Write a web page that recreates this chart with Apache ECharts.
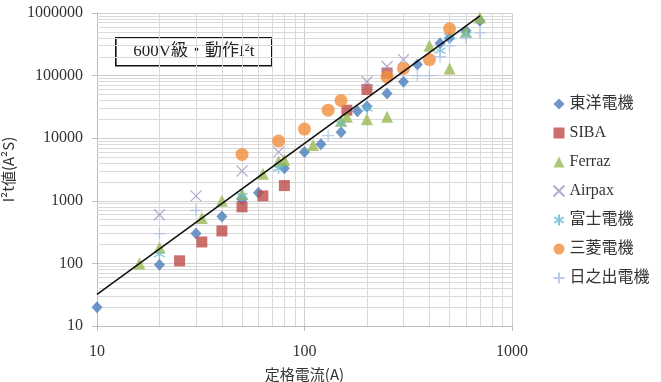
<!DOCTYPE html>
<html>
<head>
<meta charset="utf-8">
<script src="https://cdn.jsdelivr.net/npm/echarts@6/dist/echarts.min.js"></script>
<style>
  html, body { margin: 0; padding: 0; background: #fff; }
  #chart { width: 661px; height: 382px; }
</style>
</head>
<body>
<div id="chart"></div>
<script>
// Rated current (A) vs. operating I²t (A²s) for 600 V class fuses, by maker.
const seriesNames = ['東洋電機', 'SIBA', 'Ferraz', 'Airpax', '富士電機', '三菱電機', '日之出電機'];

const toyo = [[10, 20], [20, 95], [30, 300], [40, 560], [50, 1050], [60, 1350], [80, 3300], [100, 6000],
  [120, 8000], [150, 12500], [180, 27000], [200, 32000], [250, 52000], [300, 80000], [350, 150000],
  [450, 330000], [500, 400000], [600, 520000], [700, 750000]];
const siba = [[25, 110], [32, 220], [40, 330], [50, 800], [63, 1200], [80, 1750], [160, 28000],
  [200, 60000], [250, 110000]];
const ferraz = [[16, 100], [20, 180], [32, 530], [40, 1000], [50, 1300], [63, 2700], [75, 4300],
  [80, 4500], [110, 7800], [150, 19000], [160, 22000], [200, 20000], [250, 22000], [400, 300000],
  [500, 130000], [600, 500000], [700, 850000]];
const airpax = [[20, 600], [30, 1200], [50, 3000], [75, 6000], [200, 80000], [250, 140000], [300, 180000]];
const fuji = [[20, 140], [50, 1200], [75, 3300], [150, 17000], [200, 30000], [450, 250000],
  [500, 420000], [600, 450000]];
const mitsubishi = [[50, 5500], [75, 9000], [100, 14000], [130, 28000], [150, 40000], [250, 95000],
  [300, 130000], [400, 180000], [500, 560000]];
const hinode = [[20, 300], [30, 700], [130, 11000], [350, 100000], [400, 100000], [450, 200000],
  [500, 300000], [600, 400000], [700, 480000]];

// Power-law trend line end points
const trend = [[10, 32], [700, 900000]];

// Axis ranges
const xRange = [10, 1000];
const yRange = [10, 1000000];

const serif = "'Liberation Serif', 'DejaVu Serif', 'Noto Sans CJK JP', serif";
const gothic = "'Noto Sans CJK JP', 'Noto Sans', sans-serif";
const gridColor = '#cfcfcf';

// Minor (2..9 × decade) grid values on the log axes
function minorValues(lo, hi) {
  const out = [];
  for (let d = lo; d < hi; d *= 10) {
    for (let k = 2; k <= 9; k++) out.push(d * k);
  }
  return out;
}
const minorLines = minorValues(xRange[0], xRange[1]).map(v => ({ xAxis: v }))
  .concat(minorValues(yRange[0], yRange[1]).map(v => ({ yAxis: v })));

const markerX = 'path://M0,0L10,10M10,0L0,10';
const markerPlus = 'path://M5,0L5,10M0,5L10,5';
const markerStar = 'path://M5,0L5,10M0.7,2.5L9.3,7.5M0.7,7.5L9.3,2.5';

function pts(arr) { return arr.map(p => [p[0], p[1]]); }

const chart = echarts.init(document.getElementById('chart'), null, { renderer: 'canvas' });

chart.setOption({
  animation: false,
  backgroundColor: '#ffffff',
  grid: { left: 97, right: 149, top: 13, bottom: 56, containLabel: false, outerBoundsMode: 'none' },
  legend: {
    orient: 'vertical',
    left: 546,
    top: 91,
    itemWidth: 11,
    itemHeight: 11,
    itemGap: 13,
    textStyle: { fontFamily: serif, fontSize: 16, color: '#333' },
    data: seriesNames
  },
  xAxis: {
    type: 'log',
    logBase: 10,
    min: xRange[0],
    max: xRange[1],
    name: '定格電流(A)',
    nameLocation: 'middle',
    nameGap: 41,
    nameTextStyle: { fontFamily: gothic, fontSize: 15, color: '#333' },
    axisLine: { show: true, lineStyle: { color: '#bdbdbd' } },
    axisTick: { show: true, length: 5, lineStyle: { color: '#bdbdbd' } },
    axisLabel: {
      margin: 18, fontFamily: serif, fontSize: 16, color: '#333',
      formatter: v => String(Math.round(v))
    },
    splitLine: { show: true, lineStyle: { color: gridColor } }
  },
  yAxis: {
    type: 'log',
    logBase: 10,
    min: yRange[0],
    max: yRange[1],
    name: 'I²t値(A²S)',
    nameLocation: 'middle',
    nameGap: 72,
    nameRotate: 90,
    nameTextStyle: { fontFamily: gothic, fontSize: 15, color: '#333' },
    axisLine: { show: true, lineStyle: { color: '#bdbdbd' } },
    axisTick: { show: true, length: 5, lineStyle: { color: '#bdbdbd' } },
    axisLabel: {
      margin: 14, fontFamily: serif, fontSize: 16, color: '#333',
      formatter: v => String(Math.round(v))
    },
    splitLine: { show: true, lineStyle: { color: gridColor } }
  },
  series: [
    {
      // minor grid lines, kept on the base layer
      type: 'scatter', data: [], silent: true, z: 1, zlevel: 0,
      markLine: {
        silent: true, symbol: ['none', 'none'], label: { show: false },
        lineStyle: { color: '#dadada', type: 'solid', width: 1 },
        emphasis: { disabled: true },
        data: minorLines
      }
    },
    {
      name: '東洋電機', type: 'scatter', zlevel: 1, z: 3, symbol: 'diamond', symbolSize: [11, 12],
      itemStyle: { color: '#4a7ebb' }, data: pts(toyo)
    },
    {
      name: 'SIBA', type: 'scatter', zlevel: 1, z: 3, symbol: 'rect', symbolSize: 11,
      itemStyle: { color: '#be4b48' }, data: pts(siba)
    },
    {
      name: 'Ferraz', type: 'scatter', zlevel: 1, z: 3, symbol: 'triangle', symbolSize: 12,
      itemStyle: { color: '#98b954' }, data: pts(ferraz)
    },
    {
      name: 'Airpax', type: 'scatter', zlevel: 1, z: 3, symbol: markerX, symbolSize: 11,
      itemStyle: { color: 'none', borderColor: '#a396c4', borderWidth: 1.3 }, data: pts(airpax)
    },
    {
      name: '富士電機', type: 'scatter', zlevel: 1, z: 3, symbol: markerStar, symbolSize: 11,
      itemStyle: { color: 'none', borderColor: '#62b8d3', borderWidth: 1.3 }, data: pts(fuji)
    },
    {
      name: '三菱電機', type: 'scatter', zlevel: 1, z: 3, symbol: 'circle', symbolSize: 13,
      itemStyle: { color: '#f28f3c' }, data: pts(mitsubishi)
    },
    {
      name: '日之出電機', type: 'scatter', zlevel: 1, z: 3, symbol: markerPlus, symbolSize: 12,
      itemStyle: { color: 'none', borderColor: '#a7c0e4', borderWidth: 1.3 }, data: pts(hinode)
    },
    {
      // trend line, drawn over the markers
      type: 'line', zlevel: 1, z: 10, silent: true, symbol: 'none', showSymbol: false,
      lineStyle: { color: '#111', width: 1.6, type: 'solid' }, data: trend
    }
  ],
  graphic: [
    {
      type: 'group', left: 115, top: 37, silent: true, zlevel: 1,
      children: [
        { type: 'rect', shape: { x: 0, y: 0, width: 156, height: 28 },
          style: { fill: '#fff', stroke: '#111', lineWidth: 1.6 } },
        { type: 'text', x: 78, y: 14,
          style: { text: '600V級・動作I²t', fontFamily: serif, fontSize: 17, fill: '#222',
                   align: 'center', verticalAlign: 'middle' } }
      ]
    }
  ]
});
</script>
</body>
</html>
